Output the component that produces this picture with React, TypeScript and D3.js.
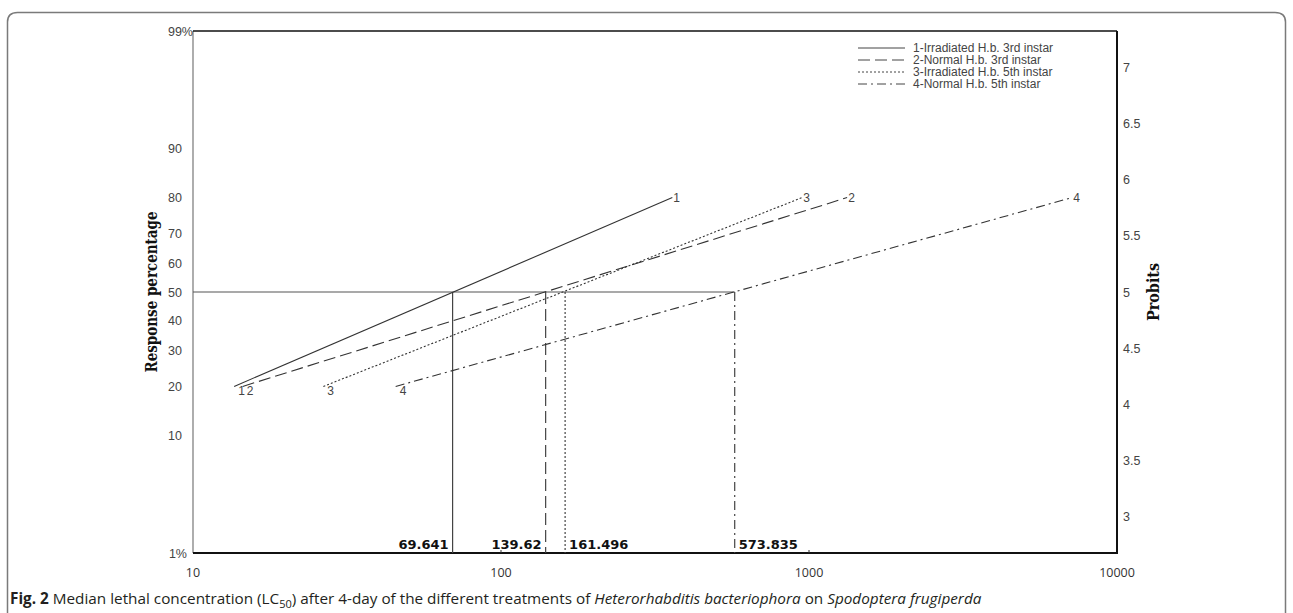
import React from "react";
import * as d3 from "d3";

// treatments
const seriesNames = [
  "1-Irradiated H.b. 3rd instar",
  "2-Normal H.b. 3rd instar",
  "3-Irradiated H.b. 5th instar",
  "4-Normal H.b. 5th instar",
];
const seriesIds = ["1", "2", "3", "4"];
const lc50Values = [69.641, 139.62, 161.496, 573.835];
const lowDose = [13.6, 14.5, 26.5, 45.5]; // dose at 20% response
const highDose = [360, 1330, 950, 7150]; // dose at 80% response
const responseRange = [20, 80];
const dashes = ["", "12,5", "2,2", "9,4,2,4"];

const percentTicks = [1, 10, 20, 30, 40, 50, 60, 70, 80, 90, 99];
const probitTicks = [3, 3.5, 4, 4.5, 5, 5.5, 6, 6.5, 7];
const doseTicks = [10, 100, 1000, 10000];

// inverse normal cdf (Acklam)
function normInv(p: number) {
  const a = [-39.69683028665376, 220.9460984245205, -275.9285104469687, 138.357751867269, -30.66479806614716, 2.506628277459239];
  const b = [-54.47609879822406, 161.5858368580409, -155.6989798598866, 66.80131188771972, -13.28068155288572];
  const c = [-0.007784894002430293, -0.3223964580411365, -2.400758277161838, -2.549732539343734, 4.374664141464968, 2.938163982698783];
  const d = [0.007784695709041462, 0.3224671290700398, 2.445134137142996, 3.754408661907416];
  const pl = 0.02425;
  let q, r;
  if (p < pl) {
    q = Math.sqrt(-2 * Math.log(p));
    return (((((c[0] * q + c[1]) * q + c[2]) * q + c[3]) * q + c[4]) * q + c[5]) / ((((d[0] * q + d[1]) * q + d[2]) * q + d[3]) * q + 1);
  }
  if (p > 1 - pl) {
    q = Math.sqrt(-2 * Math.log(1 - p));
    return -(((((c[0] * q + c[1]) * q + c[2]) * q + c[3]) * q + c[4]) * q + c[5]) / ((((d[0] * q + d[1]) * q + d[2]) * q + d[3]) * q + 1);
  }
  q = p - 0.5;
  r = q * q;
  return ((((((a[0] * r + a[1]) * r + a[2]) * r + a[3]) * r + a[4]) * r + a[5]) * q) / (((((b[0] * r + b[1]) * r + b[2]) * r + b[3]) * r + b[4]) * r + 1);
}
const probit = (pct: number) => 5 + normInv(pct / 100);

const App = () => {
  const W = 1293;
  const H = 613;
  const left = 193, right = 1117, top = 31, bottom = 553;

  const x = d3.scaleLog().domain([10, 10000]).range([left, right]);
  const y = d3.scaleLinear().domain([probit(1), probit(99)]).range([bottom, top]);

  const line = d3
    .line<[number, number]>()
    .x((d) => x(d[0]))
    .y((d) => y(probit(d[1])));

  const tickFont = "'Liberation Sans', Arial, sans-serif";
  const y50 = y(5);

  return (
    <svg width={W} height={H} style={{ position: "absolute", left: 0, top: 0 }}>
      <rect x={0} y={0} width={W} height={H} fill="#fff" />
      {/* card border */}
      <path
        d={`M7.5,${H + 5} V22 Q7.5,12.5 17.5,12.5 H1275 Q1285.5,12.5 1285.5,22 V${H + 5}`}
        fill="none"
        stroke="#7a7a7a"
        strokeWidth={1.5}
      />

      {/* frame */}
      <line x1={left} x2={left} y1={top} y2={bottom} stroke="#777" strokeWidth={1.2} />
      <line x1={left} x2={right} y1={top} y2={top} stroke="#111" strokeWidth={1.6} />
      <line x1={right} x2={right} y1={top} y2={bottom + 1} stroke="#111" strokeWidth={2} />
      <line x1={left} x2={right} y1={bottom} y2={bottom} stroke="#111" strokeWidth={1.8} />
      {doseTicks.slice(1, 3).map((t) => (
        <line key={t} x1={x(t)} x2={x(t)} y1={bottom} y2={bottom - 3} stroke="#333" strokeWidth={1} />
      ))}

      {/* left percent labels */}
      {percentTicks.map((t) => (
        <text
          key={t}
          x={t === 99 ? 193 : t === 1 ? 187 : 182}
          y={y(probit(t)) + 4.5}
          textAnchor="end"
          fontFamily={tickFont}
          fontSize={12.5}
          fill="#444"
        >
          {t === 1 || t === 99 ? `${t}%` : t}
        </text>
      ))}

      {/* right probit labels */}
      {probitTicks.map((t) => (
        <text key={t} x={1123} y={y(t) + 4.5} fontFamily={tickFont} fontSize={12.5} fill="#444">
          {t}
        </text>
      ))}

      {/* x labels */}
      {doseTicks.map((t) => (
        <text key={t} x={x(t)} y={577} textAnchor="middle" fontFamily="'Open Sans', sans-serif" fontSize={12.5} fill="#333">
          {t}
        </text>
      ))}

      {/* axis titles */}
      <text
        transform={`translate(157,${y50}) rotate(-90)`}
        textAnchor="middle"
        fontFamily="'DejaVu Serif', serif"
        fontWeight="bold"
        fontSize={16}
        textLength={161}
        lengthAdjust="spacingAndGlyphs"
        fill="#111"
      >
        Response percentage
      </text>
      <text
        transform={`translate(1159,${y50}) rotate(-90)`}
        textAnchor="middle"
        fontFamily="'DejaVu Serif', serif"
        fontWeight="bold"
        fontSize={16}
        textLength={58}
        lengthAdjust="spacingAndGlyphs"
        fill="#111"
      >
        Probits
      </text>

      {/* 50% guide and LC50 drops */}
      <line x1={left} x2={x(d3.max(lc50Values)!)} y1={y50} y2={y50} stroke="#555" strokeWidth={1.2} />
      {lc50Values.map((v, i) => (
        <line key={i} x1={x(v)} x2={x(v)} y1={y50} y2={bottom} stroke="#444" strokeWidth={1.2} strokeDasharray={dashes[i]} />
      ))}
      {lc50Values.map((v, i) => (
        <text
          key={i}
          x={i < 2 ? x(v) - 4 : x(v) + 4}
          y={549}
          textAnchor={i < 2 ? "end" : "start"}
          fontFamily="'DejaVu Sans', Verdana, sans-serif"
          fontWeight="bold"
          fontSize={13}
          fill="#111"
        >
          {v}
        </text>
      ))}

      {/* regression lines */}
      {seriesIds.map((id, i) => {
        const pts: [number, number][] = [
          [lowDose[i], responseRange[0]],
          [highDose[i], responseRange[1]],
        ];
        return (
          <g key={id}>
            <path d={line(pts)!} fill="none" stroke="#333" strokeWidth={1.1} strokeDasharray={dashes[i]} />
            <text
              x={x(lowDose[i]) + 4}
              y={y(probit(responseRange[0])) + 5}
              dominantBaseline="middle"
              fontFamily={tickFont}
              fontSize={12}
              fill="#444"
            >
              {id}
            </text>
            <text
              x={x(highDose[i]) + 1}
              y={y(probit(responseRange[1])) + 1}
              dominantBaseline="middle"
              fontFamily={tickFont}
              fontSize={12}
              fill="#444"
            >
              {id}
            </text>
          </g>
        );
      })}

      {/* legend */}
      {seriesNames.map((name, i) => (
        <g key={name} transform={`translate(858,${48 + i * 12})`}>
          <line x1={0} x2={47} y1={0} y2={0} stroke="#444" strokeWidth={1} strokeDasharray={dashes[i]} />
          <text x={55} y={4} fontFamily={tickFont} fontSize={12} fill="#444">
            {name}
          </text>
        </g>
      ))}

      {/* caption */}
      <text x={10} y={604} fontFamily="'Open Sans', sans-serif" fontSize={15.3} fill="#231f20">
        <tspan fontWeight="bold">Fig. 2</tspan>
        <tspan>{"  Median lethal concentration (LC"}</tspan>
        <tspan fontSize={11} dy={4}>50</tspan>
        <tspan dy={-4}>{") after 4-day of the different treatments of "}</tspan>
        <tspan fontStyle="italic">Heterorhabditis bacteriophora</tspan>
        <tspan>{" on "}</tspan>
        <tspan fontStyle="italic">Spodoptera frugiperda</tspan>
      </text>
    </svg>
  );
};

export default App;
